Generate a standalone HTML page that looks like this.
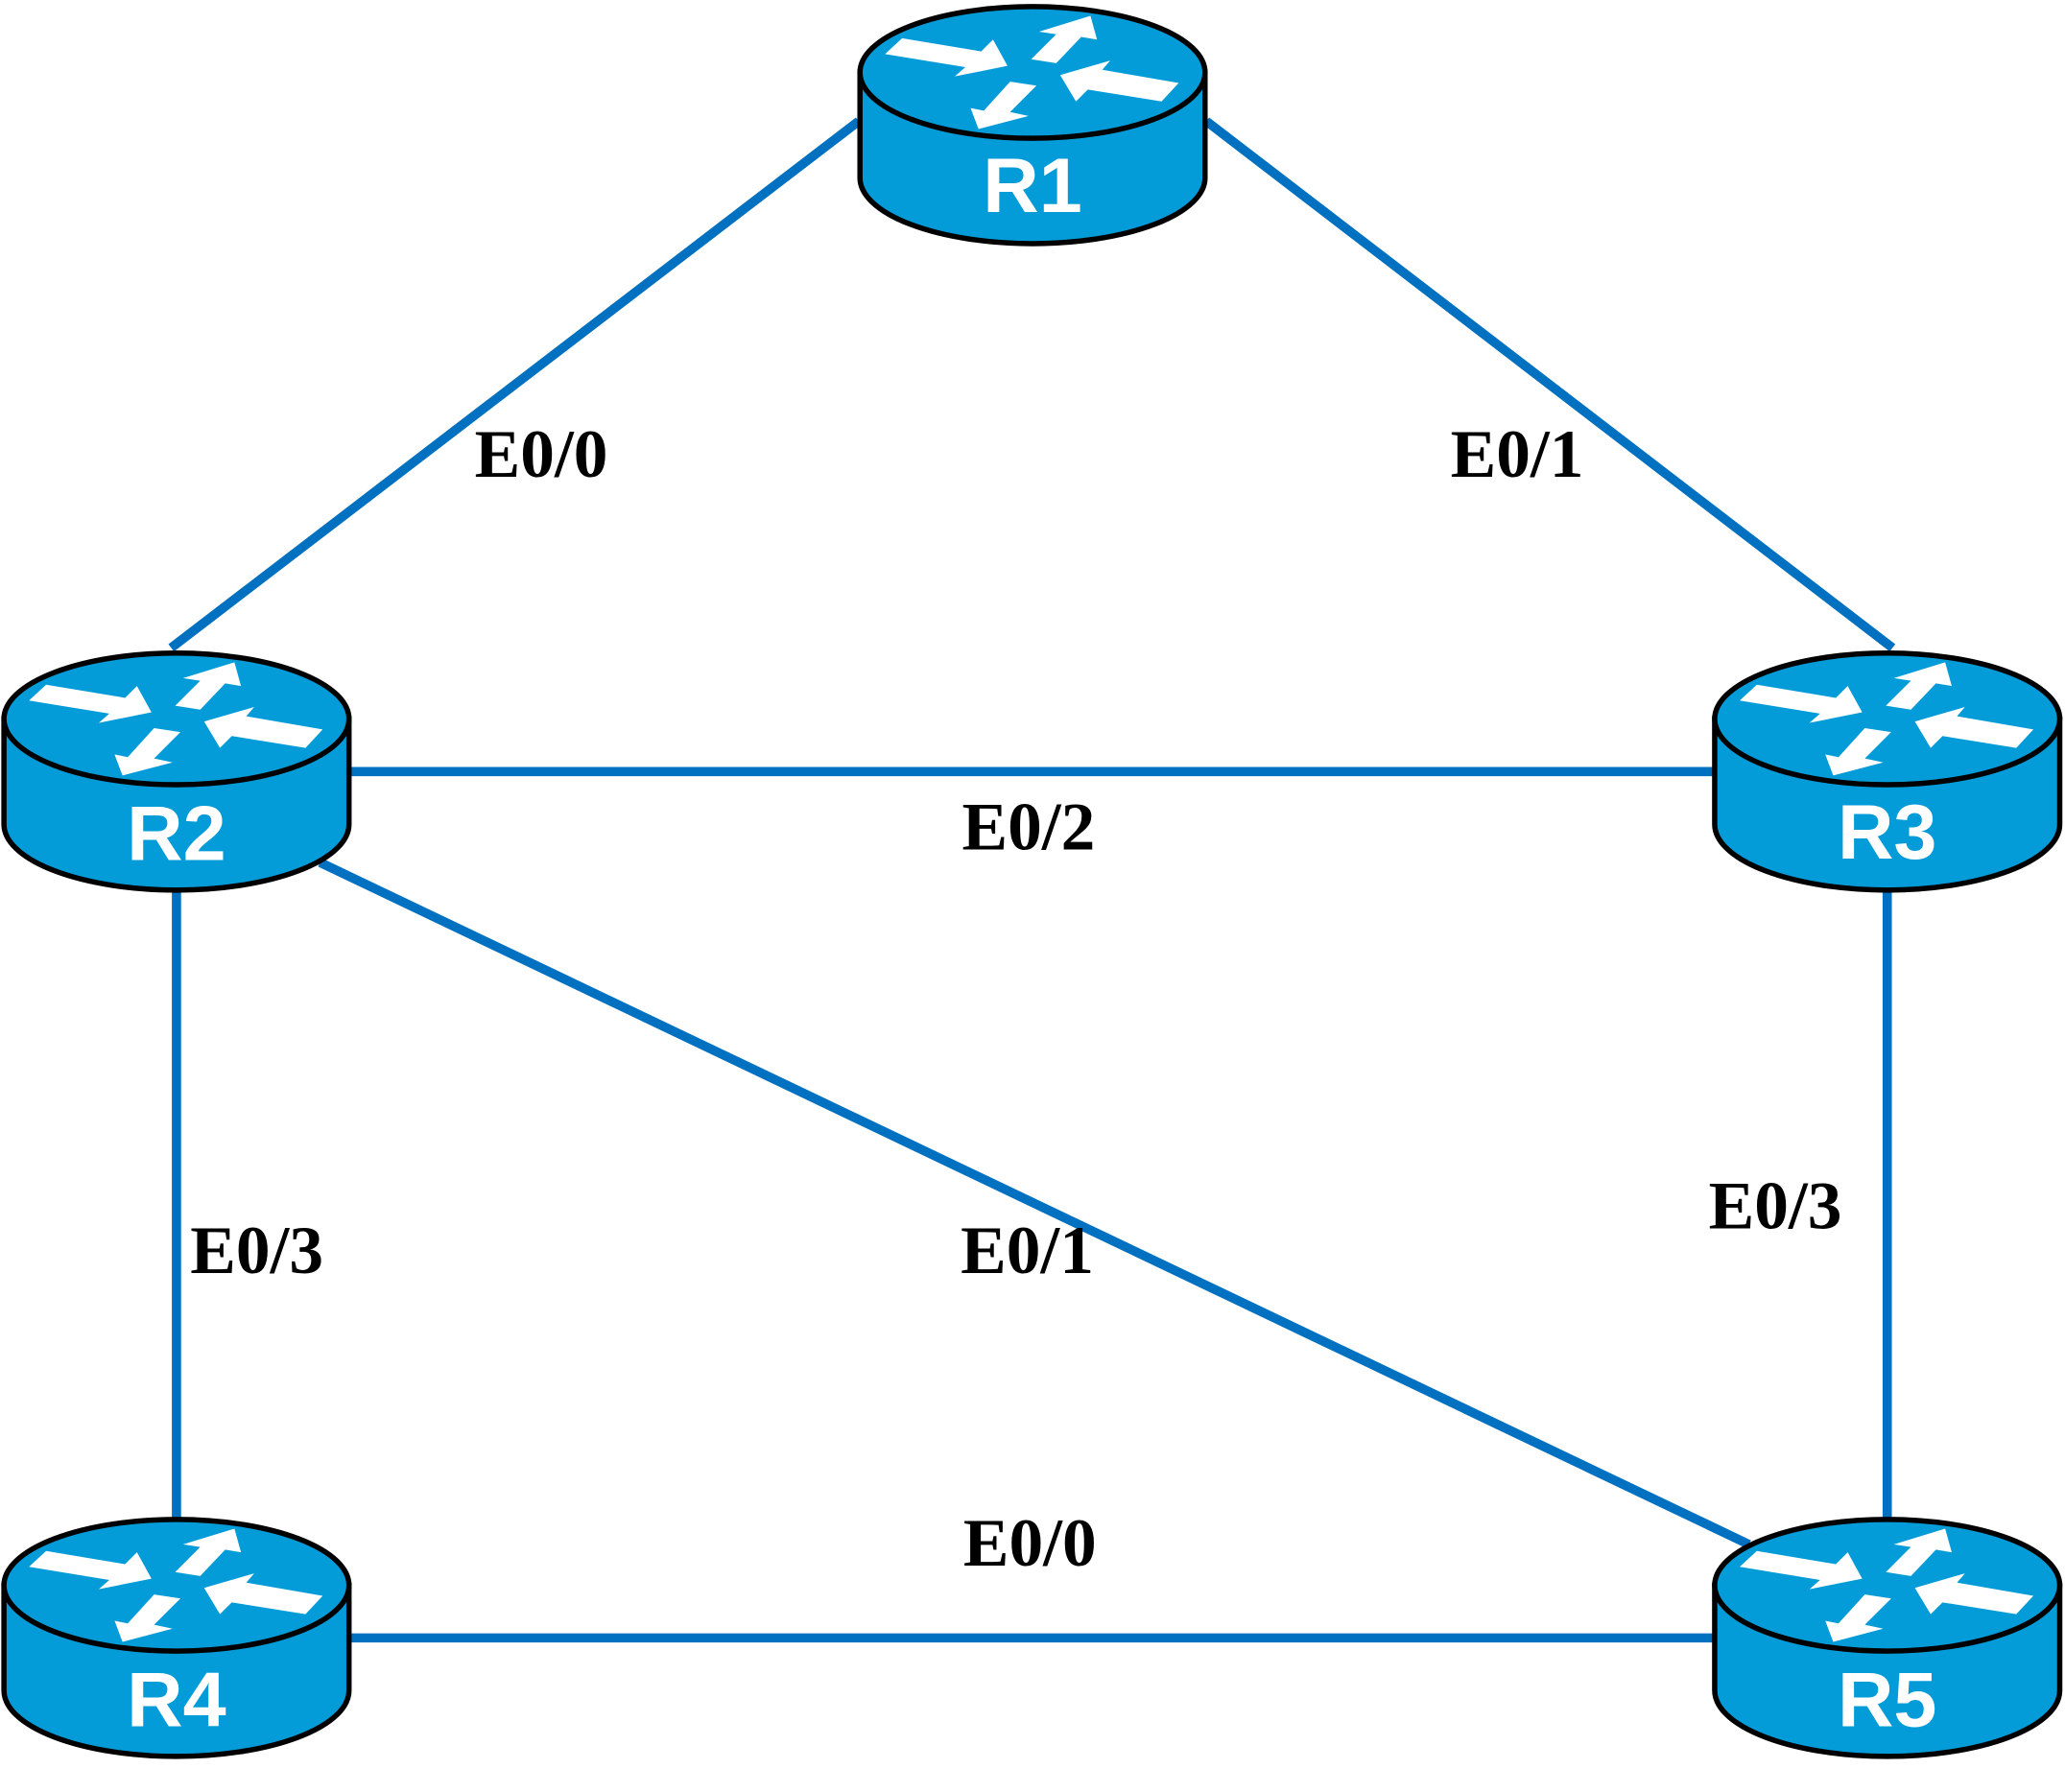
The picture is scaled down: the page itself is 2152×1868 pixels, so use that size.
<!DOCTYPE html>
<html><head><style>html,body{margin:0;padding:0;background:#fff}svg{display:block}</style></head>
<body>
<svg width="2152" height="1868" viewBox="0 0 1568 1361" xmlns="http://www.w3.org/2000/svg">
<defs>
<g id="rt">
<path d="M-131,0 L-131,80 A131,50 0 0 0 131,80 L131,0 Z" fill="#039bd8" stroke="#000" stroke-width="4"/>
<ellipse cx="0" cy="0" rx="131" ry="50" fill="#039bd8" stroke="#000" stroke-width="4"/>
<g fill="#fff">
<polygon points="-112,-14 -99,-26 -39,-16 -30,-25 -19,-5 -59,3 -51,-4"/>
<polygon points="-1,-10 18,-29 5,-31 44,-43 49,-25 37,-27 18,-7"/>
<polygon points="21,2 59,-9 53,-2 111,8 98,22 42,13 33,22"/>
<polygon points="-17,7 3,10 -17,30 -3,33 -41,43 -47,27 -37,29"/>
</g>
</g>
</defs>
<g stroke="#0070c0" stroke-width="7" fill="none">
<line x1="652" y1="92" x2="130" y2="492"/>
<line x1="916" y1="92" x2="1437" y2="492"/>
<line x1="266" y1="586" x2="1302" y2="586"/>
<line x1="243" y1="655" x2="1328" y2="1173"/>
<line x1="134" y1="676" x2="134" y2="1154"/>
<line x1="1433" y1="676" x2="1433" y2="1154"/>
<line x1="266" y1="1244" x2="1302" y2="1244"/>
</g>
<use href="#rt" x="784" y="55"/>
<use href="#rt" x="134" y="546"/>
<use href="#rt" x="1433" y="546"/>
<use href="#rt" x="134" y="1204"/>
<use href="#rt" x="1433" y="1204"/>
<g fill="#fff" font-family="Liberation Sans, sans-serif" font-weight="bold" font-size="59" text-anchor="middle">
<text x="784" y="161">R1</text>
<text x="134" y="653">R2</text>
<text x="1433" y="652">R3</text>
<text x="134" y="1311">R4</text>
<text x="1433" y="1311">R5</text>
</g>
<g fill="#000" font-family="Liberation Serif, serif" font-weight="bold" font-size="52" text-anchor="middle">
<text x="411" y="362">E0/0</text>
<text x="1152" y="362">E0/1</text>
<text x="781" y="645">E0/2</text>
<text x="195" y="967">E0/3</text>
<text x="780" y="967">E0/1</text>
<text x="1348" y="933">E0/3</text>
<text x="782" y="1189">E0/0</text>
</g>
</svg>
</body></html>
